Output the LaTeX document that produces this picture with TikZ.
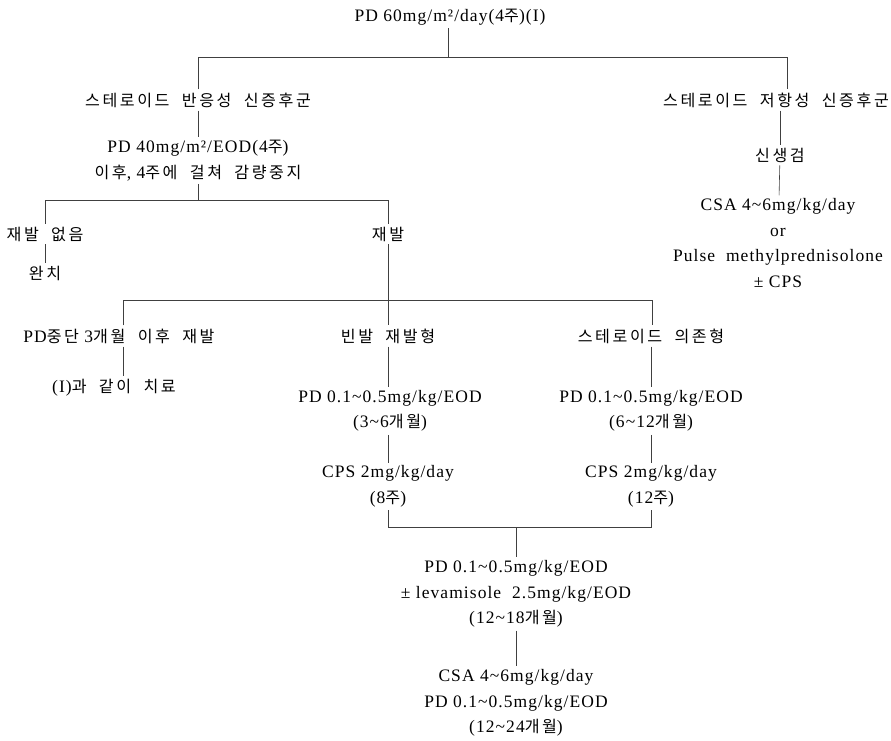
\documentclass[tikz,border=0pt]{standalone}
\usepackage{fontspec}
\setmainfont{Liberation Serif}[LetterSpace=6]
\newfontfamily\kr{Noto Sans CJK KR}[LetterSpace=16,Scale=0.92,WordSpace=2]
\newcommand\K[1]{{\kr #1}}
\newcommand\tl{\textasciitilde}
\tikzset{
  lbl/.style={align=center, inner sep=3pt, font=\fontsize{17.5}{25.5}\selectfont},
  con/.style={draw=black!75, line width=0.6pt}
}
\begin{document}
\begin{tikzpicture}[x=1pt,y=-1pt]
\useasboundingbox (0,0) rectangle (891,741);
% nodes
\node[lbl] (top) at (450,17) {PD 60mg/m²/day(4\K{주})(I)};
\node[lbl] (resp) at (198,100) {\K{스테로이드 반응성 신증후군}};
\node[lbl] (resist) at (776,100) {\K{스테로이드 저항성 신증후군}};
\node[lbl] (pd40) at (198,160.5) {PD 40mg/m²/EOD(4\K{주})\\\K{이후}, 4\K{주에 걸쳐 감량중지}};
\node[lbl] (norel) at (45,234) {\K{재발 없음}};
\node[lbl] (rel) at (388,234) {\K{재발}};
\node[lbl] (cure) at (45,273) {\K{완치}};
\node[lbl] (late) at (119,336) {PD\K{중단} 3\K{개월 이후 재발}};
\node[lbl] (freq) at (388,336) {\K{빈발 재발형}};
\node[lbl] (dep) at (651,336) {\K{스테로이드 의존형}};
\node[lbl] (same) at (114,388) {(I)\K{과 같이 치료}};
\node[lbl] (freqpd) at (390,411) {PD 0.1\tl0.5mg/kg/EOD\\(3\tl6\K{개월})};
\node[lbl] (freqcps) at (388,486.5) {CPS 2mg/kg/day\\(8\K{주})};
\node[lbl] (deppd) at (651,411) {PD 0.1\tl0.5mg/kg/EOD\\(6\tl12\K{개월})};
\node[lbl] (depcps) at (651,486.5) {CPS 2mg/kg/day\\(12\K{주})};
\node[lbl] (maint) at (516,594) {PD 0.1\tl0.5mg/kg/EOD\\\textpm\ levamisole\ \ 2.5mg/kg/EOD\\(12\tl18\K{개월})};
\node[lbl] (csa) at (516,703) {CSA 4\tl6mg/kg/day\\PD 0.1\tl0.5mg/kg/EOD\\(12\tl24\K{개월})};
\node[lbl] (biopsy) at (780,155) {\K{신생검}};
\node[lbl] (rtx) at (778,243) {CSA 4\tl6mg/kg/day\\or\\Pulse\ \ methylprednisolone\\\textpm\ CPS};
% junctions
\coordinate (j1) at (448,57);
\coordinate (j1l) at (198,57);
\coordinate (j1r) at (787,57);
\coordinate (j2) at (198,200);
\coordinate (j2l) at (45,200);
\coordinate (j2r) at (388,200);
\coordinate (j3) at (388,300);
\coordinate (j3l) at (123,300);
\coordinate (j3r) at (652,300);
\coordinate (j4) at (516,527);
\coordinate (j4l) at (388,527);
\coordinate (j4r) at (651,527);
% connectors
\draw[con] (top.south -| j1) -- (j1);
\draw[con] (resp) -- (j1l) -- (j1r) -- (j1r |- resist.north);
\draw[con] (resp) -- (pd40);
\draw[con] (pd40) -- (j2);
\draw[con] (norel) -- (j2l) -- (j2r) -- (rel);
\draw[con] (norel) -- (cure);
\draw[con] (rel) -- (freq);
\draw[con] (j3l |- late.north) -- (j3l) -- (j3r) -- (j3r |- dep.north);
\draw[con] (late.south -| j3l) -- (same.north -| j3l);
\draw[con] (freq) -- (freq |- freqpd.north);
\draw[con] (freqpd.south -| freq) -- (freqcps);
\draw[con] (dep) -- (deppd);
\draw[con] (deppd) -- (depcps);
\draw[con] (freqcps) -- (j4l) -- (j4r) -- (depcps);
\draw[con] (j4) -- (maint);
\draw[con] (maint) -- (csa);
\draw[con] (resist.south -| biopsy) -- (biopsy);
\draw[con] (biopsy) -- (rtx);
\end{tikzpicture}
\end{document}
